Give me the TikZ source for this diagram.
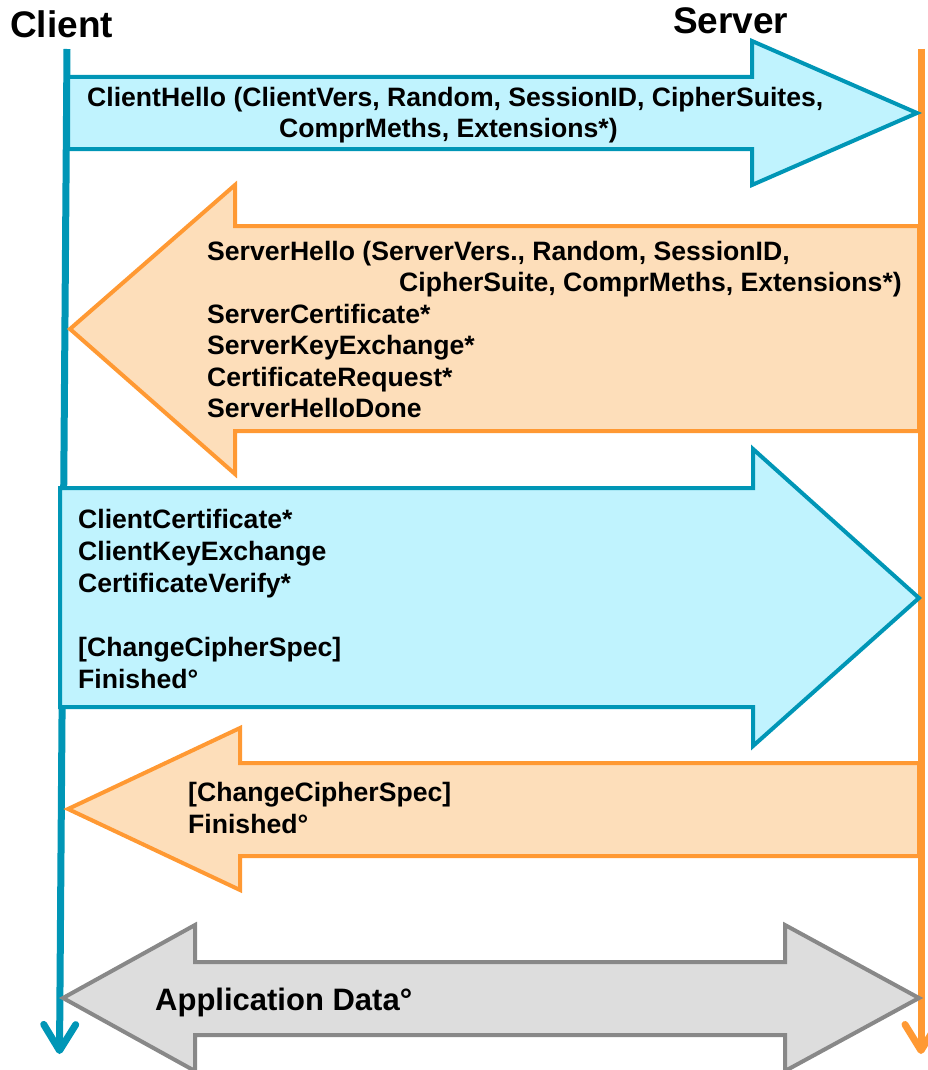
\documentclass[tikz,border=0pt]{standalone}
\usepackage{fontspec}
\setmainfont{Liberation Sans}
\usetikzlibrary{arrows.meta}

\definecolor{clientblue}{RGB}{0,150,182}
\definecolor{clientfill}{RGB}{192,243,254}
\definecolor{serverorange}{RGB}{255,153,51}
\definecolor{serverfill}{RGB}{253,222,186}
\definecolor{datagrey}{RGB}{136,136,136}
\definecolor{datafill}{RGB}{221,221,221}

\begin{document}
\begin{tikzpicture}[x=1pt,y=-1pt,
  lifeline/.style={line width=7pt,
    -{Straight Barb[length=26pt,width=32pt,round]}},
  title/.style={anchor=base west,inner sep=0pt,
    font=\bfseries\fontsize{37}{44}\selectfont},
  msg/.style={anchor=base west,inner sep=0pt,
    font=\bfseries\fontsize{26.6}{31}\selectfont},
  bigmsg/.style={anchor=base west,inner sep=0pt,
    font=\bfseries\fontsize{31}{37}\selectfont},
  tosrv/.style={draw=clientblue,fill=clientfill,line width=4pt},
  tocli/.style={draw=serverorange,fill=serverfill,line width=4pt},
  both/.style={draw=datagrey,fill=datafill,line width=4pt}]

\useasboundingbox (0,0) rectangle (928,1070);

% party names and their lifelines
\node[title] (client) at (10,38) {Client};
\node[title] (server) at (673,34) {Server};
\coordinate (ctop) at (67,49);
\coordinate (cbot) at (59.5,1054);
\coordinate (stop) at (921,49);
\coordinate (sbot) at (921,1054);
\draw[lifeline,clientblue] (ctop) -- (cbot);
\draw[lifeline,serverorange] (stop) -- (sbot);

% ClientHello
\path[tosrv] (68,77) -- (752,77) -- (752,41) -- (917,113) -- (752,185)
  -- (752,149) -- (68,149) -- cycle;
\node[msg] (ch1) at (87,107) {ClientHello (ClientVers, Random, SessionID, CipherSuites,};
\node[msg] (ch2) at (279,138) {ComprMeths, Extensions*)};

% ServerHello ... ServerHelloDone
\path[tocli] (919,226) -- (235,226) -- (235,185) -- (70,329) -- (235,474)
  -- (235,431) -- (919,431) -- cycle;
\node[msg] (sh1) at (207,260) {ServerHello (ServerVers., Random, SessionID,};
\node[msg] (sh2) at (399,291.5) {CipherSuite, ComprMeths, Extensions*)};
\node[msg] (sh3) at (207,323) {ServerCertificate*};
\node[msg] (sh4) at (207,354.5) {ServerKeyExchange*};
\node[msg] (sh5) at (207,386) {CertificateRequest*};
\node[msg] (sh6) at (207,417.5) {ServerHelloDone};

% client key exchange and Finished
\path[tosrv] (60,488) -- (753,488) -- (753,449) -- (919,598) -- (753,746)
  -- (753,707) -- (60,707) -- cycle;
\node[msg] (ck1) at (78,528) {ClientCertificate*};
\node[msg] (ck2) at (78,560) {ClientKeyExchange};
\node[msg] (ck3) at (78,592) {CertificateVerify*};
\node[msg] (ck4) at (78,656) {[ChangeCipherSpec]};
\node[msg] (ck5) at (78,688) {Finished°};

% server Finished
\path[tocli] (919,763) -- (240,763) -- (240,728) -- (68,809) -- (240,890)
  -- (240,856) -- (919,856) -- cycle;
\node[msg] (sf1) at (188,801) {[ChangeCipherSpec]};
\node[msg] (sf2) at (188,833) {Finished°};

% application data in both directions
\path[both] (63,998) -- (195,925) -- (195,962) -- (785,962) -- (785,925)
  -- (919,998) -- (785,1071) -- (785,1035) -- (195,1035) -- (195,1071) -- cycle;
\node[bigmsg] (app) at (155,1010) {Application Data°};

\end{tikzpicture}
\end{document}
